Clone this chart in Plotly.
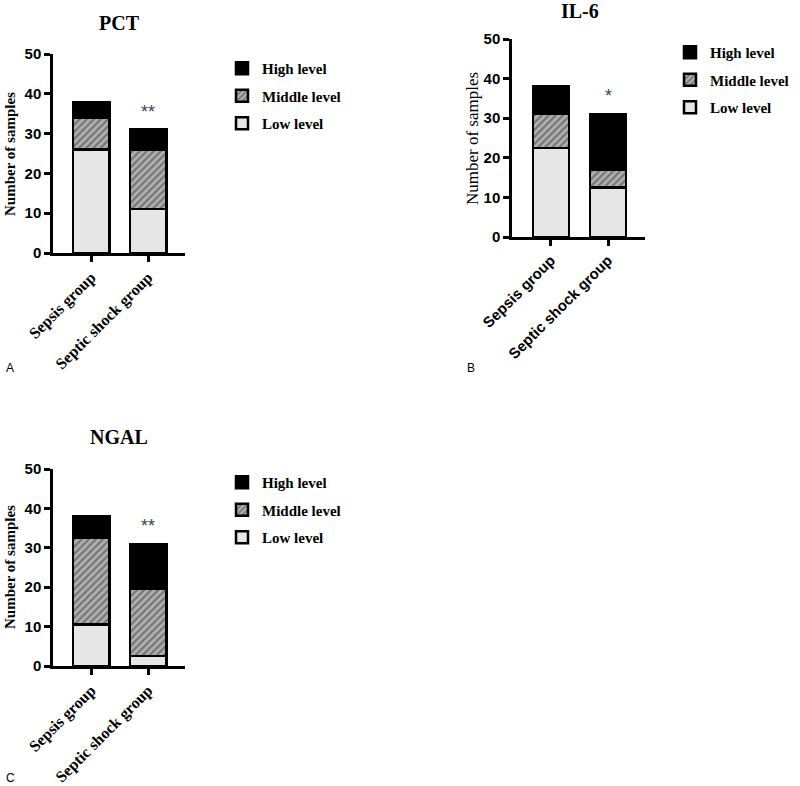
import plotly.graph_objects as go

groups = ["Sepsis group", "Septic shock group"]
levels = ["Low level", "Middle level", "High level"]

pct_low = [26, 11]
pct_mid = [8, 15]
pct_high = [4, 5]

il6_low = [22.5, 12.5]
il6_mid = [8.5, 4.5]
il6_high = [7, 14]

ngal_low = [10.5, 2.5]
ngal_mid = [22, 17]
ngal_high = [5.5, 11.5]

panel_titles = ["PCT", "IL-6", "NGAL"]
panel_letters = ["A", "B", "C"]
stars = ["**", "*", "**"]

W, H = 800, 786
SERIF = "Liberation Serif"
SANS = "Liberation Sans"

def fx(px):
    return px / W

def fy(py):
    return 1 - py / H

panels = [
    dict(low=pct_low, mid=pct_mid, high=pct_high,
         xdom=[fx(53), fx(185)], ydom=[fy(253), fy(54)], xr=[-0.667, 1.649],
         title_xy=(119, 23), ytitle_xy=(10, 154), leg_xy=(222, 52),
         letter_xy=(4, 368), xfont=SERIF, xsize=16, ytitle_weight="bold", ytitle_size=15),
    dict(low=il6_low, mid=il6_mid, high=il6_high,
         xdom=[fx(512), fx(645)], ydom=[fy(237), fy(39)], xr=[-0.684, 1.649],
         title_xy=(580, 11), ytitle_xy=(473, 139), leg_xy=(670, 36),
         letter_xy=(465, 368), xfont=SANS, xsize=15, ytitle_weight="normal", ytitle_size=17),
    dict(low=ngal_low, mid=ngal_mid, high=ngal_high,
         xdom=[fx(53), fx(185)], ydom=[fy(666), fy(469)], xr=[-0.667, 1.649],
         title_xy=(119, 437), ytitle_xy=(10, 567), leg_xy=(222, 466),
         letter_xy=(4, 778), xfont=SERIF, xsize=16, ytitle_weight="bold", ytitle_size=15),
]

fig = go.Figure()
annotations = []
layout = {}

for i, p in enumerate(panels):
    n = "" if i == 0 else str(i + 1)
    xa, ya = "x" + n, "y" + n
    leg = "legend" + n
    series = [
        (levels[0], p["low"], dict(color="#e6e6e6"), 3),
        (levels[1], p["mid"], dict(color="#9a9a9a", pattern=dict(shape="/", fgcolor="#3a3a3a", bgcolor="#b0b0b0", size=5, solidity=0.45)), 2),
        (levels[2], p["high"], dict(color="#000000"), 1),
    ]
    for name, vals, mk, rank in series:
        mk = dict(mk)
        mk["line"] = dict(color="black", width=2.5)
        fig.add_trace(go.Bar(
            x=groups, y=vals, name=name, marker=mk, width=0.64,
            xaxis=xa, yaxis=ya, legend=leg, legendgroup=name + n, legendrank=rank,
        ))
    layout["xaxis" + n] = dict(
        domain=p["xdom"], anchor=ya, range=p["xr"], type="category", automargin=False,
        showline=True, linecolor="black", linewidth=2.5,
        ticks="outside", ticklen=6, tickwidth=2.5, tickcolor="black",
        tickangle=-45, showgrid=False, zeroline=False,
        tickfont=dict(family=p["xfont"], size=p["xsize"], color="black", weight="bold"),
    )
    layout["yaxis" + n] = dict(
        domain=p["ydom"], anchor=xa, range=[0, 50], dtick=10, automargin=False,
        showline=True, linecolor="black", linewidth=2.5,
        ticks="outside", ticklen=6, tickwidth=2.5, tickcolor="black",
        showgrid=False, zeroline=False,
        tickfont=dict(family=SANS, size=15, color="black", weight="bold"),
    )
    layout[leg] = dict(
        x=fx(p["leg_xy"][0]), y=fy(p["leg_xy"][1]), xanchor="left", yanchor="top",
        traceorder="grouped", tracegroupgap=5,
        font=dict(family=SERIF, size=15, color="black", weight="bold"),
        bgcolor="rgba(0,0,0,0)",
    )
    tx, ty = p["title_xy"]
    annotations.append(dict(text=panel_titles[i], x=fx(tx), y=fy(ty), xref="paper", yref="paper",
                            showarrow=False, xanchor="center", yanchor="middle",
                            font=dict(family=SERIF, size=20, color="black", weight="bold")))
    yx, yy = p["ytitle_xy"]
    annotations.append(dict(text="Number of samples", x=fx(yx), y=fy(yy), xref="paper", yref="paper",
                            showarrow=False, textangle=-90, xanchor="center", yanchor="middle",
                            font=dict(family=SERIF, size=p["ytitle_size"], color="black", weight=p["ytitle_weight"])))
    lx, ly = p["letter_xy"]
    annotations.append(dict(text=panel_letters[i], x=fx(lx), y=fy(ly), xref="paper", yref="paper",
                            showarrow=False, xanchor="left", yanchor="middle",
                            font=dict(family=SANS, size=12, color="black")))
    total = p["low"][1] + p["mid"][1] + p["high"][1]
    annotations.append(dict(text=stars[i], x=groups[1], y=total, xref=xa, yref=ya,
                            showarrow=False, yanchor="bottom", yshift=6,
                            font=dict(family=SANS, size=18, color="#444444")))

fig.update_layout(
    barmode="stack", width=W, height=H, margin=dict(l=0, r=0, t=0, b=0),
    paper_bgcolor="white", plot_bgcolor="white", showlegend=True,
    annotations=annotations, **layout,
)

fig.write_html("out.html", config={"displayModeBar": False},
               post_script="document.body.style.margin='0';document.body.style.overflow='hidden';")
